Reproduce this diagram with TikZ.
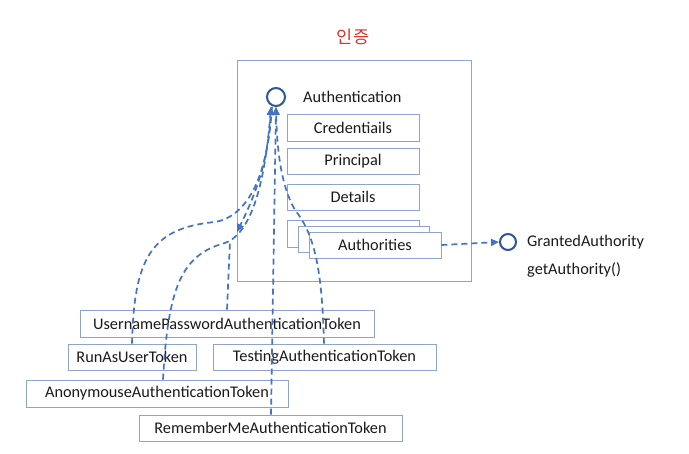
\documentclass[tikz,border=0pt]{standalone}
\usepackage{fontspec}
\setmainfont{Carlito}
\newfontfamily\krfont{Noto Sans CJK KR}
\usetikzlibrary{arrows.meta}
\definecolor{boxline}{HTML}{8EA4CC}
\definecolor{conn}{HTML}{4472C4}
\definecolor{circ}{HTML}{2F5597}
\definecolor{titlered}{HTML}{E0302C}
\definecolor{txt}{HTML}{1A1A1A}
\tikzset{
  box/.style={draw=boxline, line width=0.9pt, fill=white, rectangle, inner sep=0pt,
    font=\fontsize{16.3}{19}\selectfont, text=txt},
  lbl/.style={font=\fontsize{16.3}{19}\selectfont, text=txt, inner sep=0pt},
  iface/.style={draw=circ, line width=2pt, circle, fill=white, inner sep=0pt},
  conline/.style={draw=conn, line width=1.7pt, dash pattern=on 6pt off 4pt},
  tip/.style={-{Triangle[length=8pt,width=7pt]}}
}
\begin{document}
\begin{tikzpicture}[x=1pt,y=-1pt]
\useasboundingbox (0,0) rectangle (689,454);
\node[font=\krfont\fontsize{17.5}{20}\selectfont, text=titlered] (title) at (353,37) {인증};
\node[draw=boxline, line width=1pt, minimum width=234pt, minimum height=221pt, inner sep=0pt] (frame) at (354,171.5) {};
\node[iface, minimum size=18pt] (auth) at (276,97) {};
\node[lbl, anchor=west] (authlbl) at (303,97) {Authentication};
\node[box, minimum width=132pt, minimum height=27pt] (cred) at (353,127.5) {Credentiails};
\node[box, minimum width=132pt, minimum height=26pt] (princ) at (353,161) {Principal};
\node[box, minimum width=132pt, minimum height=26pt] (det) at (353,197) {Details};
\node[box, minimum width=132pt, minimum height=27pt] (authA) at (353,233.5) {};
\node[box, minimum width=131pt, minimum height=26pt] (authB) at (363.5,239) {};
\node[box, minimum width=132pt, minimum height=26pt] (authC) at (375,245) {Authorities};
\node[iface, minimum size=16pt] (ga) at (508,242) {};
\node[lbl, anchor=west] (galbl) at (527,242) {GrantedAuthority};
\node[lbl, anchor=west] (gameth) at (527,270) {getAuthority()};
\node[box, minimum width=294pt, minimum height=27pt] (upat) at (227,323.5) {UsernamePasswordAuthenticationToken};
\node[box, minimum width=128pt, minimum height=26pt] (runas) at (132,357) {RunAsUserToken};
\node[box, minimum width=223pt, minimum height=26pt] (test) at (324.5,357) {TestingAuthenticationToken};
\node[box, minimum width=262pt, minimum height=27pt] (anon) at (157,393.5) {AnonymouseAuthenticationToken};
\node[box, minimum width=263pt, minimum height=26pt] (remem) at (270.5,428) {RememberMeAuthenticationToken};
\coordinate (a1) at (271,107);
\coordinate (a2) at (276,107);
\coordinate (a3) at (272,107);
\coordinate (ua) at (237,232);
\coordinate (ub) at (230,241);
% connectors
\draw[conline, tip] (runas.north -| 132,0) .. controls (134,260) and (150,228) .. (215,222) .. controls (250,216) and (268,170) .. (a1);
\draw[conline, tip] (anon.north -| 163,0) .. controls (168,290) and (180,255) .. (225,243) .. controls (255,232) and (266,170) .. (a1);
\draw[conline, tip] (a3) .. controls (268,170) and (250,205) .. (ua);
\draw[conline] (upat.north -| 227,0) -- (ub);
\draw[conline, tip] (remem.north -| 271,0) -- (a2);
\draw[conline, tip] (test.north -| 324,0) .. controls (322,270) and (315,235) .. (295,210) .. controls (281,186) and (277,150) .. (a2);
\draw[conline, tip] (authC.east) -- (ga.west);
\end{tikzpicture}
\end{document}
